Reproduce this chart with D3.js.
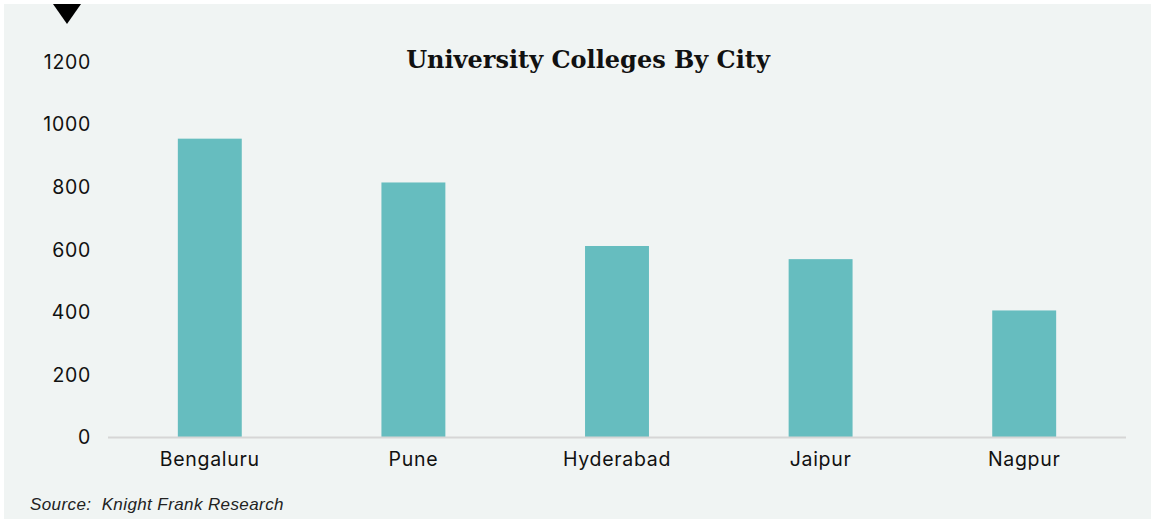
<!DOCTYPE html>
<html>
<head>
	<title>University Colleges By City</title>
	<style type="text/css">
		body {
			margin: 0;
			background: #fff;
		}

		.tick text {
			font-family: Inter, "Liberation Sans", Arial, sans-serif;
			font-size: 19.5px;
			letter-spacing: 0.7px;
			fill: #111;
		}

	</style>
</head>
<body>
	<div id="chart"></div>
	<script src="https://d3js.org/d3.v7.min.js"></script>
	<script type="text/javascript">
		var cities = ["Bengaluru", "Pune", "Hyderabad", "Jaipur", "Nagpur"];
		var colleges = [955, 815, 612, 570, 406];
		var yTicks = [0, 200, 400, 600, 800, 1000, 1200];

		var width = 1154,
				height = 521;

		var svg = d3.select('#chart')
					.append('svg')
					.attr('width', width)
					.attr('height', height);

		// panel background
		svg.append('rect')
			.attr('x', 4)
			.attr('y', 4)
			.attr('width', 1147)
			.attr('height', 515)
			.attr('fill', '#f0f4f3');

		// little marker in the corner
		svg.append('path')
			.attr('d', 'M53,4 L81,4 L67,24 Z')
			.attr('fill', '#000');

		var x = d3.scaleBand()
				.domain(cities)
				.range([108, 1126])
				.paddingInner(0.686)
				.paddingOuter(0.343),

			y = d3.scaleLinear()
				.domain([0, 1200])
				.range([437.5, 62]);

		svg.append('text')
			.attr('x', 588)
			.attr('y', 68)
			.attr('text-anchor', 'middle')
			.attr('font-family', '"DejaVu Serif", "Liberation Serif", serif')
			.attr('font-weight', 'bold')
			.attr('font-size', '24px')
			.attr('fill', '#111')
			.text('University Colleges By City');

		svg.selectAll('.bar')
			.data(cities)
			.enter()
			.append('rect')
			.attr('class', 'bar')
			.attr('x', function(d) { return x(d); })
			.attr('y', function(d, i) { return y(colleges[i]); })
			.attr('width', x.bandwidth())
			.attr('height', function(d, i) { return y(0) - y(colleges[i]); })
			.attr('fill', '#66bdbf');

		// y axis, no line, no ticks
		var yAxis = svg.append('g')
			.attr('transform', 'translate(91,0)')
			.call(d3.axisLeft(y).tickValues(yTicks).tickFormat(d3.format('d')).tickSize(0).tickPadding(0));
		yAxis.select('.domain').remove();

		// baseline
		svg.append('line')
			.attr('x1', 108)
			.attr('x2', 1126)
			.attr('y1', y(0))
			.attr('y2', y(0))
			.attr('stroke', '#d6d6d6')
			.attr('stroke-width', 2);

		var xAxis = svg.append('g')
			.attr('transform', 'translate(0,' + y(0) + ')')
			.call(d3.axisBottom(x).tickSize(0).tickPadding(15));
		xAxis.select('.domain').remove();

		svg.append('text')
			.attr('x', 30)
			.attr('y', 510)
			.style('white-space', 'pre')
			.attr('font-family', '"Liberation Sans", Arial, sans-serif')
			.attr('font-style', 'italic')
			.attr('font-size', '17px')
			.attr('letter-spacing', '0.4px')
			.attr('fill', '#222')
			.text('Source:  Knight Frank Research');

	</script>
</body>
</html>
